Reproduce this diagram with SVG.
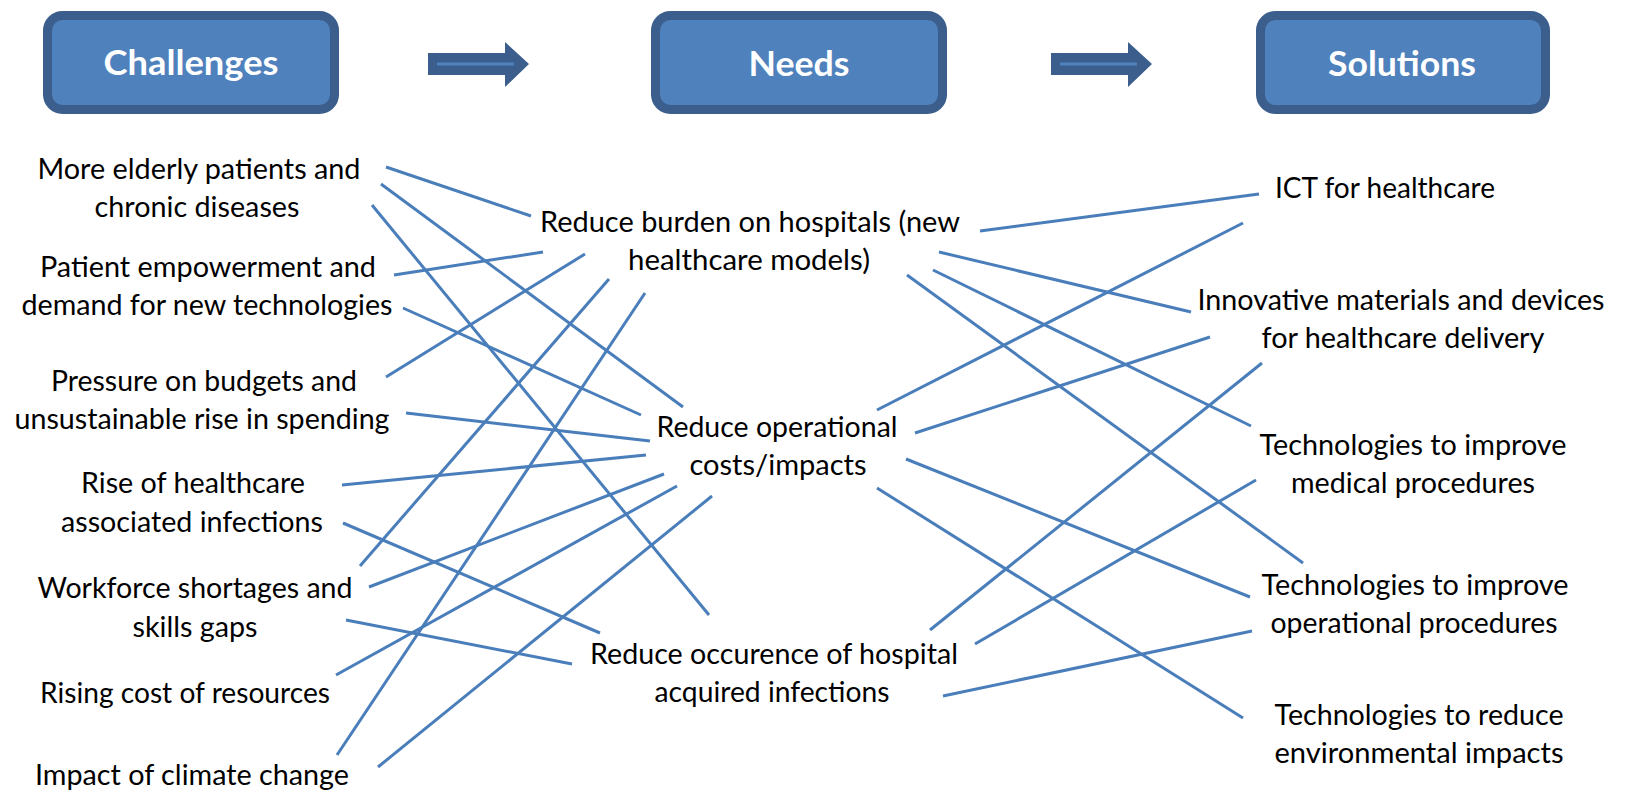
<svg xmlns="http://www.w3.org/2000/svg" width="1626" height="791" viewBox="0 0 1626 791">
<style>
.box{fill:#4F81BD;stroke:#3B5E8C;stroke-width:9}
.hdr{font-family:Lato,"Open Sans","Liberation Sans",sans-serif;font-weight:bold;font-size:35px;fill:#FFFFFF;text-anchor:middle}
.lbl{font-family:Lato,"Open Sans","Liberation Sans",sans-serif;font-size:28px;fill:#000000;text-anchor:middle}
.conn line{stroke:#4A7EBB;stroke-width:3;fill:none}
.arw{fill:#3B5E8C}
.arwl{stroke:#4F81BD;stroke-width:3}
</style>
<rect width="1626" height="791" fill="#FFFFFF"/>
<g id="h-challenges">
<rect class="box" x="47.5" y="15.5" width="287" height="94" rx="15"/>
<text class="hdr" x="191" y="75" textLength="175" lengthAdjust="spacingAndGlyphs">Challenges</text>
</g>
<g id="h-needs">
<rect class="box" x="655.5" y="15.5" width="287" height="94" rx="15"/>
<text class="hdr" x="799" y="76" textLength="101" lengthAdjust="spacingAndGlyphs">Needs</text>
</g>
<g id="h-solutions">
<rect class="box" x="1260.5" y="15.5" width="285" height="94" rx="15"/>
<text class="hdr" x="1402" y="76" textLength="148" lengthAdjust="spacingAndGlyphs">Solutions</text>
</g>
<g id="arrow-1">
<polygon class="arw" points="428,53 505,53 505,42 529,64 505,87 505,75 428,75"/>
<line class="arwl" x1="437" y1="64" x2="514" y2="64"/>
</g>
<g id="arrow-2">
<polygon class="arw" points="1051,53 1128,53 1128,42 1152,64 1128,87 1128,75 1051,75"/>
<line class="arwl" x1="1060" y1="64" x2="1137" y2="64"/>
</g>
<g id="connectors" class="conn">
<line x1="386" y1="167" x2="531" y2="216"/>
<line x1="381" y1="184" x2="683" y2="407"/>
<line x1="372" y1="205" x2="709" y2="615"/>
<line x1="394" y1="275" x2="543" y2="252"/>
<line x1="403" y1="308" x2="641" y2="415"/>
<line x1="386" y1="377" x2="585" y2="254"/>
<line x1="406" y1="413" x2="650" y2="441"/>
<line x1="342" y1="485" x2="646" y2="455"/>
<line x1="343" y1="523" x2="600" y2="633"/>
<line x1="360" y1="566" x2="609" y2="279"/>
<line x1="369" y1="587" x2="664" y2="474"/>
<line x1="346" y1="620" x2="572" y2="664"/>
<line x1="336" y1="675" x2="677" y2="486"/>
<line x1="337" y1="755" x2="645" y2="293"/>
<line x1="378" y1="767" x2="712" y2="496"/>
<line x1="980" y1="231" x2="1259" y2="194"/>
<line x1="939" y1="252" x2="1191" y2="312"/>
<line x1="933" y1="270" x2="1251" y2="426"/>
<line x1="907" y1="275" x2="1303" y2="563"/>
<line x1="877" y1="410" x2="1243" y2="223"/>
<line x1="915" y1="433" x2="1210" y2="337"/>
<line x1="906" y1="459" x2="1250" y2="597"/>
<line x1="877" y1="488" x2="1243" y2="718"/>
<line x1="930" y1="630" x2="1262" y2="363"/>
<line x1="975" y1="644" x2="1256" y2="480"/>
<line x1="943" y1="696" x2="1252" y2="631"/>
</g>
<g id="n-elderly">
<text class="lbl" x="199" y="179" textLength="323" lengthAdjust="spacingAndGlyphs">More elderly patients and</text>
<text class="lbl" x="197" y="217" textLength="205" lengthAdjust="spacingAndGlyphs">chronic diseases</text>
</g>
<g id="n-patient">
<text class="lbl" x="208" y="277" textLength="336" lengthAdjust="spacingAndGlyphs">Patient empowerment and</text>
<text class="lbl" x="207" y="315" textLength="371" lengthAdjust="spacingAndGlyphs">demand for new technologies</text>
</g>
<g id="n-pressure">
<text class="lbl" x="204" y="391" textLength="306" lengthAdjust="spacingAndGlyphs">Pressure on budgets and</text>
<text class="lbl" x="202" y="429" textLength="375" lengthAdjust="spacingAndGlyphs">unsustainable rise in spending</text>
</g>
<g id="n-rise">
<text class="lbl" x="193" y="493" textLength="224" lengthAdjust="spacingAndGlyphs">Rise of healthcare</text>
<text class="lbl" x="192" y="532" textLength="262" lengthAdjust="spacingAndGlyphs">associated infections</text>
</g>
<g id="n-workforce">
<text class="lbl" x="195" y="598" textLength="315" lengthAdjust="spacingAndGlyphs">Workforce shortages and</text>
<text class="lbl" x="195" y="637" textLength="125" lengthAdjust="spacingAndGlyphs">skills gaps</text>
</g>
<g id="n-rising">
<text class="lbl" x="185" y="703" textLength="290" lengthAdjust="spacingAndGlyphs">Rising cost of resources</text>
</g>
<g id="n-impact">
<text class="lbl" x="192" y="785" textLength="314" lengthAdjust="spacingAndGlyphs">Impact of climate change</text>
</g>
<g id="n-burden">
<text class="lbl" x="750" y="232" textLength="420" lengthAdjust="spacingAndGlyphs">Reduce burden on hospitals (new</text>
<text class="lbl" x="749" y="270" textLength="242" lengthAdjust="spacingAndGlyphs">healthcare models)</text>
</g>
<g id="n-operational">
<text class="lbl" x="777" y="437" textLength="241" lengthAdjust="spacingAndGlyphs">Reduce operational</text>
<text class="lbl" x="778" y="475" textLength="177" lengthAdjust="spacingAndGlyphs">costs/impacts</text>
</g>
<g id="n-occurence">
<text class="lbl" x="774" y="664" textLength="368" lengthAdjust="spacingAndGlyphs">Reduce occurence of hospital</text>
<text class="lbl" x="772" y="702" textLength="235" lengthAdjust="spacingAndGlyphs">acquired infections</text>
</g>
<g id="n-ict">
<text class="lbl" x="1385" y="198" textLength="220" lengthAdjust="spacingAndGlyphs">ICT for healthcare</text>
</g>
<g id="n-innovative">
<text class="lbl" x="1401" y="310" textLength="407" lengthAdjust="spacingAndGlyphs">Innovative materials and devices</text>
<text class="lbl" x="1403" y="348" textLength="283" lengthAdjust="spacingAndGlyphs">for healthcare delivery</text>
</g>
<g id="n-medical">
<text class="lbl" x="1413" y="455" textLength="307" lengthAdjust="spacingAndGlyphs">Technologies to improve</text>
<text class="lbl" x="1413" y="493" textLength="244" lengthAdjust="spacingAndGlyphs">medical procedures</text>
</g>
<g id="n-operproc">
<text class="lbl" x="1415" y="595" textLength="307" lengthAdjust="spacingAndGlyphs">Technologies to improve</text>
<text class="lbl" x="1414" y="633" textLength="287" lengthAdjust="spacingAndGlyphs">operational procedures</text>
</g>
<g id="n-env">
<text class="lbl" x="1419" y="725" textLength="289" lengthAdjust="spacingAndGlyphs">Technologies to reduce</text>
<text class="lbl" x="1419" y="763" textLength="289" lengthAdjust="spacingAndGlyphs">environmental impacts</text>
</g>
</svg>
